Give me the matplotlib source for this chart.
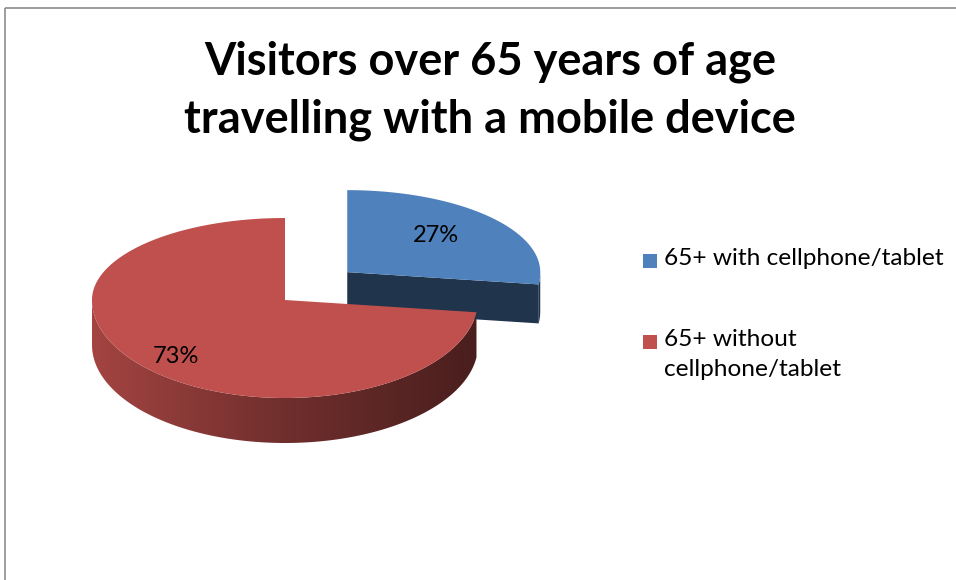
import numpy as np
import matplotlib
matplotlib.use('Agg')
import matplotlib.pyplot as plt
from matplotlib.patches import Polygon, Rectangle
from matplotlib.colors import to_rgb, LinearSegmentedColormap

plt.rcParams['font.family'] = ['Lato', 'DejaVu Sans']

# data
title = 'Visitors over 65 years of age\ntravelling with a mobile device'
labels = ['65+ with cellphone/tablet', '65+ without\ncellphone/tablet']
values = [27, 73]
top_colors = ['#4F81BD', '#C0504D']
explode = [0.43, 0.0]

# 3d pie geometry (pixels)
CX, CY = 285, 300
RX, RY_BACK, RY_FRONT = 193, 82, 98
DEPTH = 45


def pt(cx, cy, t):
    ry = RY_BACK if np.sin(t) > 0 else RY_FRONT
    return cx + RX * np.cos(t), cy - ry * np.sin(t)


def darker(c, k):
    r, g, b = to_rgb(c)
    return (r * k, g * k, b * k)


fig = plt.figure(figsize=(9.56, 5.8), dpi=100)
ax = fig.add_axes([0, 0, 1, 1])
ax.set_xlim(0, 956)
ax.set_ylim(580, 0)
ax.axis('off')

ax.add_patch(Rectangle((5, 8), 1000, 1000, fill=False, ec='#8c8c8c', lw=1.2))

# slice angles: start at 12 o'clock, go clockwise
total = sum(values)
starts, ends = [], []
a = 90.0
for v in values:
    starts.append(a)
    a -= 360.0 * v / total
    ends.append(a)

label_pos = [(0.5, 16, -10), (0.74, -2, 9)]

for i in range(len(values)):
    t0, t1 = np.radians(starts[i]), np.radians(ends[i])
    mid = (t0 + t1) / 2
    cx = CX + explode[i] * RX * np.cos(mid)
    cy = CY - explode[i] * RY_FRONT * np.sin(mid)
    base = top_colors[i]
    # exploded slice sits further back, so its wall looks a bit thinner
    depth = DEPTH - 6 * (explode[i] > 0)
    ts = np.linspace(t0, t1, 400)
    rim = np.array([pt(cx, cy, t) for t in ts])

    # cut face at the clockwise end, when it faces the viewer
    if np.sin(t1 - np.pi / 2) < 0:
        ex, ey = pt(cx, cy, t1)
        face = [(cx, cy), (ex, ey), (ex, ey + depth), (cx, cy + depth)]
        ax.add_patch(Polygon(face, closed=True, fc=darker(base, 0.4), ec='none'))

    # outer wall on the front half
    front = np.sin(ts) < 0
    if front.any():
        seg = rim[front]
        wall = np.vstack([seg, seg[::-1] + [0, depth]])
        if i == 0:
            ax.add_patch(Polygon(wall, closed=True, fc=darker(base, 0.4), ec='none'))
        else:
            poly = Polygon(wall, closed=True, fc='none', ec='none')
            ax.add_patch(poly)
            cmap = LinearSegmentedColormap.from_list(
                'wall', [darker(base, 0.85), darker(base, 0.58), darker(base, 0.38)])
            grad = np.linspace(0, 1, 256)[None, :]
            im = ax.imshow(grad, cmap=cmap, aspect='auto',
                           extent=(CX - RX, CX + RX, CY + RY_FRONT + depth + 2, CY - 10))
            im.set_clip_path(poly)

    top = np.vstack([[cx, cy], rim])
    ax.add_patch(Polygon(top, closed=True, fc=base, ec='none', zorder=2))

    # value label
    frac, ox, oy = label_pos[i]
    ry = RY_BACK if np.sin(mid) > 0 else RY_FRONT
    lx = cx + frac * RX * np.cos(mid) + ox
    ly = cy - frac * ry * np.sin(mid) + oy
    ax.text(lx, ly, f'{values[i]}%', fontsize=17, ha='center', va='center',
            color='black', zorder=3)

ax.set_xlim(0, 956)
ax.set_ylim(580, 0)

ax.text(490, 91, title, fontsize=32.5, fontweight='bold', ha='center', va='center',
        linespacing=1.46)

# legend
leg_y = [261, 342]
for i, lab in enumerate(labels):
    ax.add_patch(Rectangle((643, leg_y[i] - 7), 14, 14, fc=top_colors[i], ec='none'))
    ax.text(664, leg_y[i] - 13, lab, fontsize=17.6, ha='left', va='top', linespacing=1.5)

fig.savefig('out.png', dpi=100)
